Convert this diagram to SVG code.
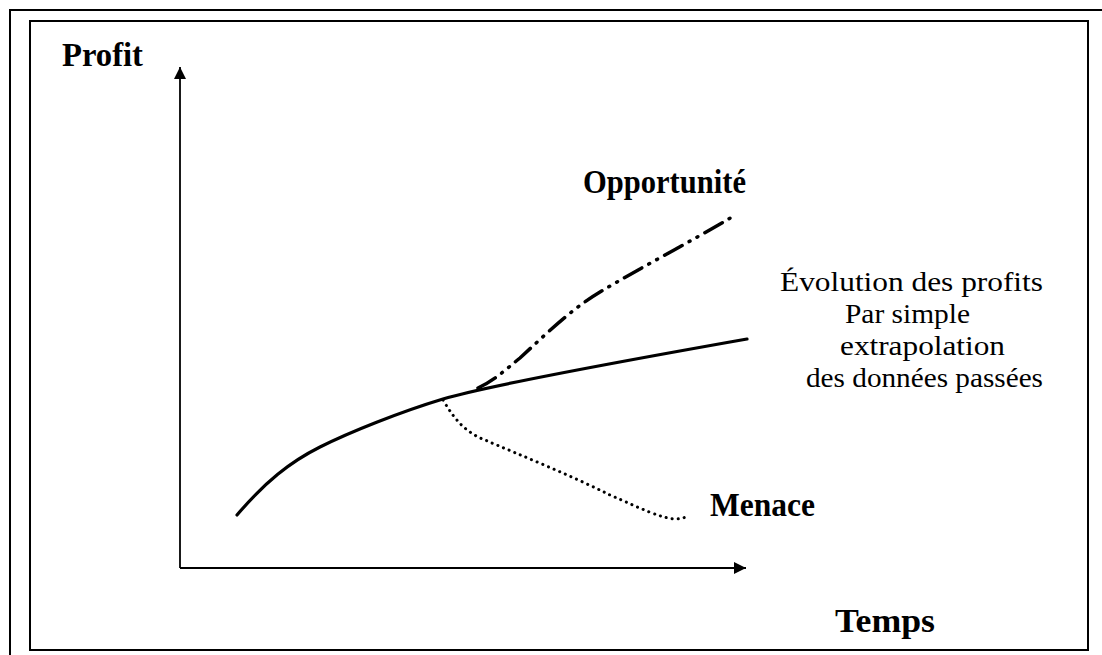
<svg xmlns="http://www.w3.org/2000/svg" width="1102" height="655" viewBox="0 0 1102 655">
<style>
.frame{fill:none;stroke:#000;stroke-width:2}
.axis{fill:none;stroke:#000;stroke-width:1.8}
.curve{fill:none;stroke:#000;stroke-width:3.2;stroke-linecap:round}
.lbl{font-family:"Liberation Serif","Times New Roman",serif;font-weight:bold;font-size:33px;fill:#000}
.txt{font-family:"Liberation Serif","Times New Roman",serif;font-size:28px;fill:#000}
</style>
<defs>
<marker id="arr" markerWidth="12" markerHeight="12" refX="10" refY="5" orient="auto" markerUnits="userSpaceOnUse" viewBox="0 0 10 10">
<path d="M0,0 L10,5 L0,10 Z" fill="#000"/>
</marker>
</defs>
<rect width="1102" height="655" fill="#fff"/>
<g id="frames">
<path class="frame" d="M10,655 V10 H1102"/>
<rect class="frame" x="30" y="21" width="1058" height="629"/>
</g>
<g id="connectors">
<path class="axis" d="M180,568 V67" marker-end="url(#arr)"/>
<path class="axis" d="M180,568 H746" marker-end="url(#arr)"/>
</g>
<g id="curve-trend">
<path class="curve" d="M237,515 C265,482 290,462 320,447 S400,412 443,399 S600,365 747,339"/>
</g>
<g id="curve-opportunite">
<path class="curve" d="M478,388 C495,380 505,370 520,358 C545,335 570,310 600,292 C640,268 690,242 732,217" stroke-dasharray="20 8 1 8 1 8" style="stroke-width:3.5"/>
</g>
<g id="curve-menace">
<path class="curve" d="M443,400 C455,420 465,432 485,440 C520,455 570,475 610,495 C640,508 660,518 675,519 C682,519 686,517 688,516" stroke-dasharray="0.1 6" style="stroke-width:3"/>
</g>
<g id="label-profit"><text class="lbl" x="62" y="66" textLength="81" lengthAdjust="spacingAndGlyphs">Profit</text></g>
<g id="label-opportunite"><text class="lbl" x="583" y="193" textLength="163" lengthAdjust="spacingAndGlyphs">Opportunité</text></g>
<g id="label-menace"><text class="lbl" x="710" y="516" textLength="105" lengthAdjust="spacingAndGlyphs">Menace</text></g>
<g id="label-temps"><text class="lbl" x="835" y="632" textLength="100" lengthAdjust="spacingAndGlyphs">Temps</text></g>
<g id="label-evolution">
<text class="txt" x="780" y="291" textLength="263" lengthAdjust="spacingAndGlyphs">Évolution des profits</text>
<text class="txt" x="845" y="323" textLength="125" lengthAdjust="spacingAndGlyphs">Par simple</text>
<text class="txt" x="840" y="355" textLength="165" lengthAdjust="spacingAndGlyphs">extrapolation</text>
<text class="txt" x="806" y="387" textLength="237" lengthAdjust="spacingAndGlyphs">des données passées</text>
</g>
</svg>
